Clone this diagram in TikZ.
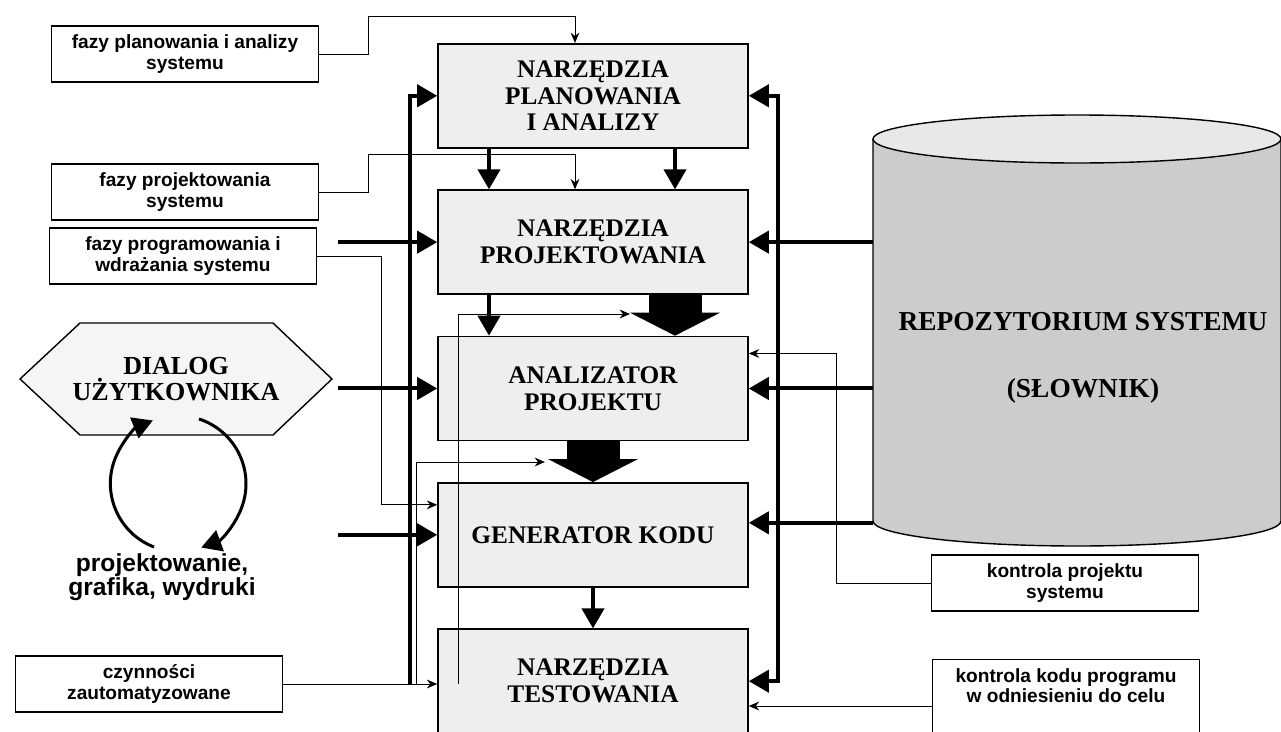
\documentclass[tikz,border=0pt]{standalone}
\usepackage{fontspec}
\setmainfont{Liberation Serif}
\newfontfamily\opisfont{Liberation Sans}
\usetikzlibrary{positioning, arrows.meta}

\tikzset{
  grot/.tip={Triangle[length=5mm,width=5.5mm]},
  tool/.style={draw,line width=1.1pt,fill=gray!13,minimum width=77.5mm,minimum height=26mm,
    inner sep=0pt,align=center,font=\fontsize{18}{19}\selectfont\bfseries},
  note/.style={draw,line width=1pt,fill=white,minimum width=66.75mm,minimum height=14mm,
    inner sep=0pt,align=center,font=\opisfont\fontsize{13.6}{14.6}\selectfont\bfseries},
  cienka/.style={line width=0.7pt,-{Stealth[length=2.6mm,width=2.2mm]}},
  gruba/.style={line width=1mm,-grot},
  blok/.style={line width=13.25mm,-{Triangle[length=5.75mm,width=22.5mm,line width=0pt]}}
}

\begin{document}
\begin{tikzpicture}[x=0.25mm,y=-0.25mm,node distance=10.2mm]
\useasboundingbox (0,0) rectangle (1281,732);

% repozytorium
\draw[line width=1pt,fill=gray!40] (873,139) -- (873,521)
  arc[start angle=180,end angle=0,x radius=204,y radius=25] -- (1281,139);
\draw[line width=1pt,fill=gray!18] (1077,139) ellipse[x radius=204,y radius=24];
\node[font=\fontsize{19.5}{19.5}\selectfont\bfseries,align=center] (repo) at (1083,358)
  {REPOZYTORIUM SYSTEMU\\[28.5pt](SŁOWNIK)};

% dialog
\draw[line width=1pt,fill=gray!8] (20,379) -- (80,323) -- (273,323) -- (332,379)
  -- (273,435) -- (80,435) -- cycle;
\node[font=\fontsize{18.5}{19}\selectfont\bfseries,align=center] (dialog) at (176,379)
  {DIALOG\\UŻYTKOWNIKA};
\node[font=\opisfont\fontsize{17.5}{17}\selectfont\bfseries,align=center] (proj) at (162,577)
  {projektowanie,\\grafika, wydruki};
\draw[line width=0.75mm,-grot] (154,547) arc[start angle=111,end angle=248,radius=68];
\draw[line width=0.75mm,-grot] (199,419) arc[start angle=288,end angle=430,radius=68];

\node[tool,anchor=north] (t1) at (593,43) {NARZĘDZIA\\PLANOWANIA\\I ANALIZY};
\node[tool,below=of t1] (t2) {NARZĘDZIA\\PROJEKTOWANIA};
\node[tool,below=of t2] (t3) {ANALIZATOR\\PROJEKTU};
\node[tool,below=of t3] (t4) {GENERATOR KODU};
\node[tool,below=of t4] (t5) {NARZĘDZIA\\TESTOWANIA};

\node[note] (n1) at (185,54) {fazy planowania i analizy\\systemu};
\node[note] (n2) at (185,192) {fazy projektowania\\systemu};
\node[note] (n3) at (183,256) {fazy programowania i\\wdrażania systemu};
\node[note] (n4) at (149,684) {czynności\\zautomatyzowane};
\node[note] (n5) at (1065,583) {kontrola projektu\\systemu};
\node[note,minimum height=23.25mm] (n6) at (1066,706)
  {kontrola kodu programu\\w odniesieniu do celu\\~\\~};

\coordinate (lft) at (338,0);
\coordinate (cyl) at (873,0);
\coordinate (cl) at (489,0);
\coordinate (cm) at (575,0);
\coordinate (cr) at (675,0);
\coordinate (bl) at (410,0);
\coordinate (br) at (778,0);
\coordinate (b2) at (416,0);
\coordinate (b3) at (458,0);
\coordinate (k1) at (630,314);
\coordinate (k2) at (545,462);

% miedzy narzedziami
\draw[gruba] (t1.south -| cl) -- (t2.north -| cl);
\draw[gruba] (t1.south -| cr) -- (t2.north -| cr);
\draw[gruba] (t2.south -| cl) -- (t3.north -| cl);
\draw[blok] (t2.south -| cr) -- (t3.north -| cr);
\draw[blok] (t3.south) -- (t4.north);
\draw[gruba] (t4.south) -- (t5.north);

% z lewej
\draw[cienka] (n1.east) -| (368,16) -| (t1.north -| cm);
\draw[cienka] (n2.east) -| (368,154) -| (t2.north -| cm);
\draw[cienka] (n3.east) -- ++(64,0) |- ([yshift=7.5mm]t4.west);
\draw[cienka] (n4.east) -- (n4.east -| t5.west);
\draw[gruba] (n4.east -| bl) |- (t1.west);
\draw[cienka] (n4.east -| b2) |- (k2);
\draw[cienka] (n4.east -| b3) |- (k1);
\foreach \n in {t2,t3,t4}
  \draw[gruba] (\n.west -| lft) -- (\n.west);

% z prawej
\foreach \n in {t2,t3}
  \draw[gruba] (\n.east -| cyl) -- (\n.east);
\draw[gruba] ([yshift=3mm]t4.east -| cyl) -- ([yshift=3mm]t4.east);
\draw[grot-grot,line width=1mm] (t5.east) -- (t5.east -| br) -- (t1.east -| br) -- (t1.east);
\draw[cienka] (n5.west) -- ++(-94,0) |- ([yshift=8.75mm]t3.east);
\draw[cienka] (n6.west) -- (n6.west -| t5.east);
\end{tikzpicture}
\end{document}
